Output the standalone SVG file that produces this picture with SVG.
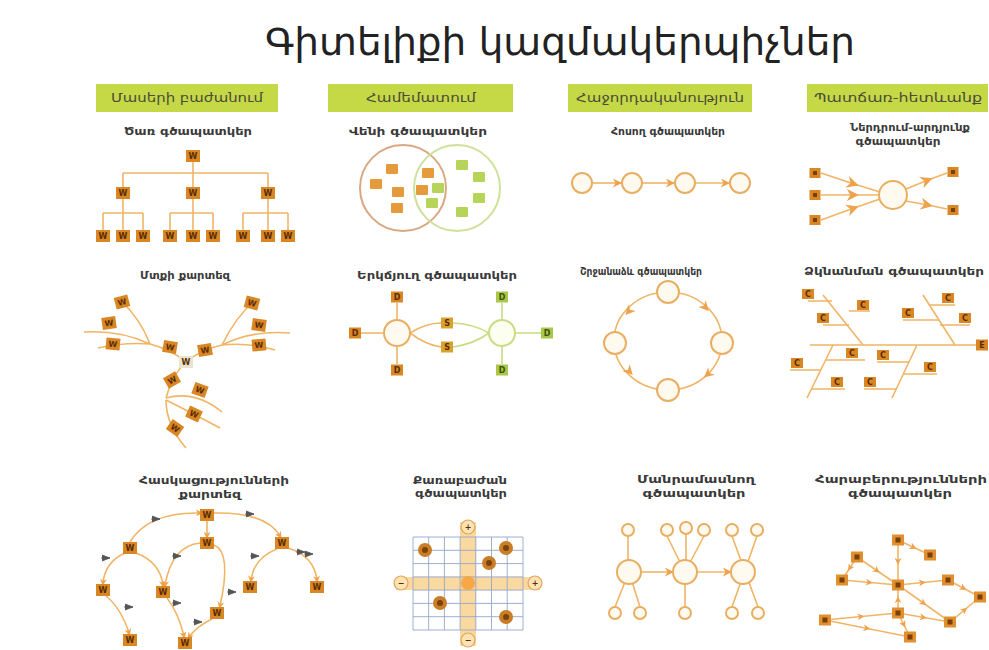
<svg xmlns="http://www.w3.org/2000/svg" width="989" height="650" viewBox="0 0 989 650">
<defs>
<style>
.ln{fill:none;stroke:#f0b566;stroke-width:1.6}
.lg{fill:none;stroke:#c9dc82;stroke-width:1.6}
.wn{fill:#d98624}
.gn{fill:#a9c84a}
.wt{font-family:"DejaVu Sans",sans-serif;font-size:8px;font-weight:bold;fill:#5a2c04;text-anchor:middle}
.gt{font-family:"DejaVu Sans",sans-serif;font-size:8px;font-weight:bold;fill:#3d5208;text-anchor:middle}
.hd{fill:#c5d846}
.ht{font-family:"DejaVu Sans",sans-serif;font-size:12px;fill:#4b4b3a;text-anchor:middle}
.st{font-family:"DejaVu Sans",sans-serif;font-size:11px;font-weight:bold;fill:#3a3a3a;text-anchor:middle}
.oc{fill:#fffaf0;stroke:#e9ae62;stroke-width:2}
.gc{fill:#fcfff0;stroke:#c9dc82;stroke-width:2}
.grid{fill:none;stroke:#93a6cc;stroke-width:0.9}
.lab{fill:#555;stroke:#555;stroke-width:0.8}
</style>
<marker id="arr" viewBox="0 0 10 10" refX="9" refY="5" markerWidth="9" markerHeight="9" orient="auto" markerUnits="userSpaceOnUse"><path d="M0,0 L10,5 L0,10 L3,5 z" fill="#eea24c"/></marker>
<marker id="arrm" viewBox="0 0 10 10" refX="6" refY="5" markerWidth="12" markerHeight="12" orient="auto" markerUnits="userSpaceOnUse"><path d="M0,0 L10,5 L0,10 L3,5 z" fill="#eea24c"/></marker>
<marker id="arrs" viewBox="0 0 10 10" refX="6" refY="5" markerWidth="7" markerHeight="7" orient="auto" markerUnits="userSpaceOnUse"><path d="M0,0 L10,5 L0,10 L3,5 z" fill="#eea24c"/></marker>
<path id="ah" d="M-6,-5 L4,0 L-6,5 L-3,0 z" fill="#eea24c"/>
<path id="lb" d="M-5,-3 L3,0 L-5,3 M-6,0 L3,0" class="lab"/>
<g id="wbox"><rect x="-7" y="-6" width="14" height="12" class="wn"/><text y="3" class="wt">W</text></g>
<g id="wlight"><rect x="-7" y="-6" width="14" height="12" fill="#e9e3cf"/><text y="3" class="wt" fill="#777">W</text></g>
<g id="dbox"><rect x="-6" y="-5.5" width="12" height="11" class="wn"/><text y="3" class="wt">D</text></g>
<g id="dgbox"><rect x="-6" y="-5.5" width="12" height="11" class="gn"/><text y="3" class="gt">D</text></g>
<g id="sbox"><rect x="-6" y="-5.5" width="12" height="11" fill="#d9a22c"/><text y="3" class="wt">S</text></g>
<g id="cbox"><rect x="-6" y="-5" width="12" height="10" class="wn"/><text y="3" class="wt">C</text></g>
<g id="ebox"><rect x="-6" y="-5.5" width="12" height="11" class="wn"/><text y="3" class="wt">E</text></g>
<g id="fbox"><rect x="-6" y="-5.5" width="12" height="11" fill="#e0902e"/><rect x="-2.5" y="-2.5" width="5" height="5" fill="#7a3e0a"/></g>
<g id="sq"><rect x="-5.5" y="-5" width="11" height="10" class="wn"/><rect x="-2" y="-2" width="4" height="4" fill="#7a3e0a"/></g>
<rect id="osq" x="-6" y="-5" width="12" height="10" rx="1" fill="#e59a3c"/>
<rect id="gsq" x="-6" y="-5" width="12" height="10" rx="1" fill="#b6d45a"/>
</defs>
<rect width="989" height="650" fill="#ffffff"/>

<g id="title"><text x="560" y="55" font-family="DejaVu Sans, sans-serif" font-size="37" fill="#222" text-anchor="middle" textLength="590" lengthAdjust="spacingAndGlyphs">Գիտելիքի կազմակերպիչներ</text></g>

<g id="headers">
<rect x="96" y="84" width="182" height="28" class="hd"/>
<text x="187" y="102" class="ht" textLength="152" lengthAdjust="spacingAndGlyphs">Մասերի բաժանում</text>
<rect x="328" y="84" width="185" height="28" class="hd"/>
<text x="421" y="102" class="ht" textLength="110" lengthAdjust="spacingAndGlyphs">Համեմատում</text>
<rect x="568" y="84" width="184" height="28" class="hd"/>
<text x="660" y="102" class="ht" textLength="168" lengthAdjust="spacingAndGlyphs">Հաջորդականություն</text>
<rect x="807" y="84" width="181" height="28" class="hd"/>
<text x="898" y="102" class="ht" textLength="168" lengthAdjust="spacingAndGlyphs">Պատճառ-հետևանք</text>
</g>

<g id="subtitles">
<text x="188" y="135" class="st" textLength="128" lengthAdjust="spacingAndGlyphs">Ծառ գծապատկեր</text>
<text x="418" y="135" class="st" textLength="138" lengthAdjust="spacingAndGlyphs">Վենի գծապատկեր</text>
<text x="668" y="135" class="st" textLength="114" lengthAdjust="spacingAndGlyphs">Հոսող գծապատկեր</text>
<text x="910" y="131" class="st" font-size="10.5" textLength="120" lengthAdjust="spacingAndGlyphs">Ներդրում-արդյունք</text>
<text x="898" y="145" class="st" font-size="10.5" textLength="85" lengthAdjust="spacingAndGlyphs">գծապատկեր</text>
<text x="185" y="279" class="st" textLength="90" lengthAdjust="spacingAndGlyphs">Մտքի քարտեզ</text>
<text x="437" y="279" class="st" textLength="160" lengthAdjust="spacingAndGlyphs">Երկճյուղ գծապատկեր</text>
<text x="641" y="275" class="st" textLength="122" lengthAdjust="spacingAndGlyphs">Շրջանաձև գծապատկեր</text>
<text x="894" y="275" class="st" textLength="180" lengthAdjust="spacingAndGlyphs">Ձկնանման գծապատկեր</text>
<text x="214" y="484" class="st" textLength="150" lengthAdjust="spacingAndGlyphs">Հասկացությունների</text>
<text x="210" y="498" class="st" textLength="62" lengthAdjust="spacingAndGlyphs">քարտեզ</text>
<text x="460" y="484" class="st" textLength="94" lengthAdjust="spacingAndGlyphs">Քառաբաժան</text>
<text x="461" y="497" class="st" textLength="92" lengthAdjust="spacingAndGlyphs">գծապատկեր</text>
<text x="696" y="483" class="st" textLength="118" lengthAdjust="spacingAndGlyphs">Մանրամասնող</text>
<text x="694" y="497" class="st" textLength="103" lengthAdjust="spacingAndGlyphs">գծապատկեր</text>
<text x="901" y="483" class="st" textLength="172" lengthAdjust="spacingAndGlyphs">Հարաբերությունների</text>
<text x="900" y="497" class="st" textLength="104" lengthAdjust="spacingAndGlyphs">գծապատկեր</text>
</g>

<g id="connectors">
<path class="ln" d="M193,162 V173 M123,173 H268 M123,173 V187 M193,173 V187 M268,173 V187 M123,199 V213 M103,213 H143 M103,213 V230 M123,213 V230 M143,213 V230 M193,199 V213 M170,213 H213 M170,213 V230 M193,213 V230 M213,213 V230 M268,199 V213 M243,213 H288 M243,213 V230 M268,213 V230 M288,213 V230"/>
<path class="ln" d="M592,183 H621" marker-end="url(#arr)"/>
<path class="ln" d="M642,183 H674" marker-end="url(#arr)"/>
<path class="ln" d="M695,183 H729" marker-end="url(#arr)"/>
<path class="ln" d="M821,173 L854,184 L880,192" marker-mid="url(#arrm)"/>
<path class="ln" d="M821,195 L854,195 L879,195" marker-mid="url(#arrm)"/>
<path class="ln" d="M821,220 L854,208 L880,199" marker-mid="url(#arrm)"/>
<path class="ln" d="M906,189 L928,180 L947,173" marker-mid="url(#arrm)"/>
<path class="ln" d="M906,201 L928,205 L947,209" marker-mid="url(#arrm)"/>
<path class="ln" d="M186,362 Q172,350 150,344 Q125,342 98,348 M150,344 Q120,330 84,332 M150,344 Q140,318 120,300"/>
<path class="ln" d="M186,362 Q200,350 222,345 Q248,342 275,350 M222,345 Q252,330 290,333 M222,345 Q235,318 255,300"/>
<path class="ln" d="M186,362 Q172,375 166,398 M166,398 Q195,390 222,412 M166,400 Q190,412 220,428 M166,400 Q166,425 186,448"/>
<path class="ln" d="M397,303 V320 M397,346 V364 M361,333 H384 M410,333 Q426,323 441,323 M410,333 Q426,345 441,347"/>
<path class="lg" d="M453,323 Q474,324 489,333 M453,347 Q474,344 489,333 M502,303 V320 M502,346 V364 M515,333 H541"/>
<ellipse cx="668" cy="341" rx="54" ry="49" class="ln"/>
<use href="#ah" transform="translate(628,312) rotate(132)"/>
<use href="#ah" transform="translate(706,308) rotate(48)"/>
<use href="#ah" transform="translate(630,372) rotate(48)"/>
<use href="#ah" transform="translate(707,375) rotate(139)"/>
<path class="ln" d="M810,345 H976 M823,295 L863,345 M923,295 L955,345 M833,345 L807,398 M917,345 L892,398"/>
<path class="ln" d="M808,301 H832 M849,311 H870 M823,325 H849 M903,320 H939 M929,305 H955 M940,325 H970 M790,370 H821 M826,360 H865 M811,389 H845 M877,362 H909 M903,374 H937 M864,389 H896"/>
<path class="ln" d="M130,542 Q148,512 200,513" marker-end="url(#arrs)"/>
<path class="ln" d="M214,513 Q266,512 280,536" marker-end="url(#arrs)"/>
<path class="ln" d="M207,521 V536" marker-end="url(#arrs)"/>
<path class="ln" d="M288,548 Q314,556 317,580" marker-end="url(#arrs)"/>
<path class="ln" d="M277,549 Q254,558 251,580" marker-end="url(#arrs)"/>
<path class="ln" d="M125,553 Q105,562 103,583" marker-end="url(#arrs)"/>
<path class="ln" d="M136,553 Q160,562 163,585" marker-end="url(#arrs)"/>
<path class="ln" d="M200,543 Q172,546 165,585" marker-end="url(#arrs)"/>
<path class="ln" d="M214,545 Q232,552 220,606" marker-end="url(#arrs)"/>
<path class="ln" d="M167,598 Q178,612 184,636" marker-end="url(#arrs)"/>
<path class="ln" d="M106,596 Q121,608 129,633" marker-end="url(#arrs)"/>
<path class="ln" d="M212,619 Q197,626 189,637" marker-end="url(#arrs)"/>
<use href="#lb" transform="translate(157,519)"/>
<use href="#lb" transform="translate(251,514)"/>
<use href="#lb" transform="translate(310,554)"/>
<use href="#lb" transform="translate(256,556)"/>
<use href="#lb" transform="translate(107,558)"/>
<use href="#lb" transform="translate(178,556)"/>
<use href="#lb" transform="translate(233,592)"/>
<use href="#lb" transform="translate(178,603)"/>
<use href="#lb" transform="translate(130,607)"/>
<use href="#lb" transform="translate(199,622)"/>
<use href="#lb" transform="translate(302,552)"/>
<rect x="460" y="522" width="16" height="124" fill="#f9cf8a" opacity="0.8"/>
<rect x="396" y="577" width="144" height="13" fill="#f9cf8a" opacity="0.8"/>
<path class="grid" d="M413,537 H523 M413,550.3 H523 M413,563.6 H523 M413,576.9 H523 M413,590.1 H523 M413,603.4 H523 M413,616.7 H523 M413,630 H523 M413,537 V630 M428.7,537 V630 M444.4,537 V630 M460.1,537 V630 M475.8,537 V630 M491.5,537 V630 M507.2,537 V630 M523,537 V630"/>
<path class="ln" d="M628,536 V560 M629,572 L615,607 M629,572 L640,607 M667,536 L685,572 M686,534 V560 M704,536 L685,572 M685,584 V607 M732,536 L758,607 M757,536 L732,607"/>
<path class="ln" d="M641,572 H673" marker-end="url(#arr)"/>
<path class="ln" d="M697,572 H731" marker-end="url(#arr)"/>
<path class="ln" d="M898,540 L914,547.5 L930,555" marker-mid="url(#arrs)"/>
<path class="ln" d="M898,540 L898,562 L898,585" marker-mid="url(#arrs)"/>
<path class="ln" d="M857,557 L877.5,571 L898,585" marker-mid="url(#arrs)"/>
<path class="ln" d="M857,557 L849.5,568.5 L842,580" marker-mid="url(#arrs)"/>
<path class="ln" d="M842,580 L870,582.5 L898,585" marker-mid="url(#arrs)"/>
<path class="ln" d="M898,585 L923,582.5 L948,580" marker-mid="url(#arrs)"/>
<path class="ln" d="M948,580 L964,588.5 L980,597" marker-mid="url(#arrs)"/>
<path class="ln" d="M898,585 L924,603.5 L950,622" marker-mid="url(#arrs)"/>
<path class="ln" d="M950,622 L965,609.5 L980,597" marker-mid="url(#arrs)"/>
<path class="ln" d="M898,613 L898,599 L898,585" marker-mid="url(#arrs)"/>
<path class="ln" d="M825,620 L861.5,616.5 L898,613" marker-mid="url(#arrs)"/>
<path class="ln" d="M825,620 L867.5,628.5 L910,637" marker-mid="url(#arrs)"/>
<path class="ln" d="M898,613 L924,617.5 L950,622" marker-mid="url(#arrs)"/>
<path class="ln" d="M898,613 L904,625 L910,637" marker-mid="url(#arrs)"/>
</g>

<g id="tree-root"><use href="#wbox" x="193" y="156"/></g>
<g id="tree-a"><use href="#wbox" x="123" y="193"/></g>
<g id="tree-b"><use href="#wbox" x="193" y="193"/></g>
<g id="tree-c"><use href="#wbox" x="268" y="193"/></g>
<g id="tree-a1"><use href="#wbox" x="103" y="236"/></g>
<g id="tree-a2"><use href="#wbox" x="123" y="236"/></g>
<g id="tree-a3"><use href="#wbox" x="143" y="236"/></g>
<g id="tree-b1"><use href="#wbox" x="170" y="236"/></g>
<g id="tree-b2"><use href="#wbox" x="193" y="236"/></g>
<g id="tree-b3"><use href="#wbox" x="213" y="236"/></g>
<g id="tree-c1"><use href="#wbox" x="243" y="236"/></g>
<g id="tree-c2"><use href="#wbox" x="268" y="236"/></g>
<g id="tree-c3"><use href="#wbox" x="288" y="236"/></g>

<g id="venn-left"><circle cx="403" cy="188" r="43" fill="none" stroke="#d9a882" stroke-width="2"/></g>
<g id="venn-right"><circle cx="457" cy="188" r="43" fill="none" stroke="#cfe09a" stroke-width="2"/></g>
<g id="venn-items">
<use href="#osq" x="392" y="169"/><use href="#osq" x="376" y="184"/><use href="#osq" x="398" y="192"/><use href="#osq" x="397" y="208"/><use href="#osq" x="428" y="173"/><use href="#osq" x="422" y="190"/>
<use href="#gsq" x="438" y="188"/><use href="#gsq" x="432" y="203"/><use href="#gsq" x="462" y="165"/><use href="#gsq" x="479" y="177"/><use href="#gsq" x="479" y="198"/><use href="#gsq" x="462" y="212"/>
</g>

<g id="flow-1"><circle cx="582" cy="183" r="10" class="oc"/></g>
<g id="flow-2"><circle cx="632" cy="183" r="10" class="oc"/></g>
<g id="flow-3"><circle cx="685" cy="183" r="10" class="oc"/></g>
<g id="flow-4"><circle cx="740" cy="183" r="10" class="oc"/></g>

<g id="io-in1"><use href="#sq" x="815" y="173"/></g>
<g id="io-in2"><use href="#sq" x="815" y="195"/></g>
<g id="io-in3"><use href="#sq" x="815" y="220"/></g>
<g id="io-center"><circle cx="893" cy="195" r="14" class="oc"/></g>
<g id="io-out1"><use href="#sq" x="953" y="172"/></g>
<g id="io-out2"><use href="#sq" x="953" y="210"/></g>

<g id="mm-center"><use href="#wlight" x="186" y="362"/></g>
<g id="mm-l1"><use href="#wbox" transform="translate(122,302) rotate(-15)"/></g>
<g id="mm-l2"><use href="#wbox" transform="translate(109,323) rotate(-8)"/></g>
<g id="mm-l3"><use href="#wbox" transform="translate(113,344) rotate(5)"/></g>
<g id="mm-l4"><use href="#wbox" transform="translate(170,347) rotate(10)"/></g>
<g id="mm-r4"><use href="#wbox" transform="translate(205,350) rotate(-10)"/></g>
<g id="mm-r1"><use href="#wbox" transform="translate(252,303) rotate(15)"/></g>
<g id="mm-r2"><use href="#wbox" transform="translate(259,325) rotate(8)"/></g>
<g id="mm-r3"><use href="#wbox" transform="translate(259,345) rotate(-5)"/></g>
<g id="mm-b1"><use href="#wbox" transform="translate(172,380) rotate(-30)"/></g>
<g id="mm-b2"><use href="#wbox" transform="translate(200,390) rotate(20)"/></g>
<g id="mm-b3"><use href="#wbox" transform="translate(194,414) rotate(25)"/></g>
<g id="mm-b4"><use href="#wbox" transform="translate(175,428) rotate(35)"/></g>

<g id="db-left"><circle cx="397" cy="333" r="13" class="oc"/></g>
<g id="db-right"><circle cx="502" cy="333" r="13" class="gc"/></g>
<g id="db-d1"><use href="#dbox" x="397" y="297"/></g>
<g id="db-d2"><use href="#dbox" x="355" y="333"/></g>
<g id="db-d3"><use href="#dbox" x="397" y="370"/></g>
<g id="db-s1"><use href="#sbox" x="447" y="323"/></g>
<g id="db-s2"><use href="#sbox" x="447" y="347"/></g>
<g id="db-d4"><use href="#dgbox" x="502" y="297"/></g>
<g id="db-d5"><use href="#dgbox" x="547" y="333"/></g>
<g id="db-d6"><use href="#dgbox" x="502" y="370"/></g>

<g id="cy-top"><circle cx="668" cy="292" r="11" class="oc"/></g>
<g id="cy-left"><circle cx="615" cy="343" r="11" class="oc"/></g>
<g id="cy-right"><circle cx="722" cy="343" r="11" class="oc"/></g>
<g id="cy-bottom"><circle cx="668" cy="390" r="11" class="oc"/></g>

<g id="fb-c1"><use href="#cbox" x="808" y="294"/></g>
<g id="fb-c2"><use href="#cbox" x="863" y="305"/></g>
<g id="fb-c3"><use href="#cbox" x="823" y="318"/></g>
<g id="fb-c4"><use href="#cbox" x="908" y="313"/></g>
<g id="fb-c5"><use href="#cbox" x="948" y="298"/></g>
<g id="fb-c6"><use href="#cbox" x="965" y="318"/></g>
<g id="fb-c7"><use href="#cbox" x="797" y="363"/></g>
<g id="fb-c8"><use href="#cbox" x="852" y="353"/></g>
<g id="fb-c9"><use href="#cbox" x="837" y="382"/></g>
<g id="fb-c10"><use href="#cbox" x="883" y="355"/></g>
<g id="fb-c11"><use href="#cbox" x="930" y="367"/></g>
<g id="fb-c12"><use href="#cbox" x="870" y="382"/></g>
<g id="fb-e"><use href="#ebox" x="982" y="345"/></g>

<g id="cm-top"><use href="#wbox" x="207" y="515"/></g>
<g id="cm-a"><use href="#wbox" x="207" y="543"/></g>
<g id="cm-l"><use href="#wbox" x="130" y="548"/></g>
<g id="cm-r"><use href="#wbox" x="282" y="543"/></g>
<g id="cm-ll"><use href="#wbox" x="103" y="590"/></g>
<g id="cm-lm"><use href="#wbox" x="163" y="592"/></g>
<g id="cm-rm"><use href="#wbox" x="250" y="587"/></g>
<g id="cm-rr"><use href="#wbox" x="317" y="587"/></g>
<g id="cm-m"><use href="#wbox" x="217" y="613"/></g>
<g id="cm-b1"><use href="#wbox" x="130" y="640"/></g>
<g id="cm-b2"><use href="#wbox" x="185" y="643"/></g>

<g id="mx-top"><circle cx="468" cy="527" r="7" fill="#fde2b4" stroke="#e2a458" stroke-width="1.2"/><text x="468" y="530" class="wt" font-size="9">+</text></g>
<g id="mx-bottom"><circle cx="468" cy="640" r="7" fill="#fde2b4" stroke="#e2a458" stroke-width="1.2"/><text x="468" y="643" class="wt" font-size="9">−</text></g>
<g id="mx-left"><circle cx="401" cy="583" r="7" fill="#fde2b4" stroke="#e2a458" stroke-width="1.2"/><text x="401" y="586" class="wt" font-size="9">−</text></g>
<g id="mx-right"><circle cx="535" cy="583" r="7" fill="#fde2b4" stroke="#e2a458" stroke-width="1.2"/><text x="535" y="586" class="wt" font-size="9">+</text></g>
<g id="mx-center"><circle cx="468" cy="583" r="7" fill="#f7a844"/></g>
<g id="mx-dots">
<circle cx="425" cy="550" r="7" fill="#c97d26"/><circle cx="425" cy="550" r="3" fill="#7a430e"/>
<circle cx="506" cy="548" r="7" fill="#c97d26"/><circle cx="506" cy="548" r="3" fill="#7a430e"/>
<circle cx="489" cy="563" r="7" fill="#c97d26"/><circle cx="489" cy="563" r="3" fill="#7a430e"/>
<circle cx="440" cy="603" r="7" fill="#c97d26"/><circle cx="440" cy="603" r="3" fill="#7a430e"/>
<circle cx="506" cy="617" r="7" fill="#c97d26"/><circle cx="506" cy="617" r="3" fill="#7a430e"/>
</g>

<g id="dt-1"><circle cx="629" cy="572" r="12" class="oc"/></g>
<g id="dt-2"><circle cx="685" cy="572" r="12" class="oc"/></g>
<g id="dt-3"><circle cx="743" cy="572" r="12" class="oc"/></g>
<g id="dt-small">
<circle cx="628" cy="530" r="6" class="oc" stroke-width="1.5"/>
<circle cx="667" cy="530" r="6" class="oc" stroke-width="1.5"/>
<circle cx="686" cy="528" r="6" class="oc" stroke-width="1.5"/>
<circle cx="704" cy="530" r="6" class="oc" stroke-width="1.5"/>
<circle cx="732" cy="530" r="6" class="oc" stroke-width="1.5"/>
<circle cx="757" cy="530" r="6" class="oc" stroke-width="1.5"/>
<circle cx="615" cy="613" r="6" class="oc" stroke-width="1.5"/>
<circle cx="640" cy="613" r="6" class="oc" stroke-width="1.5"/>
<circle cx="685" cy="613" r="6" class="oc" stroke-width="1.5"/>
<circle cx="732" cy="613" r="6" class="oc" stroke-width="1.5"/>
<circle cx="758" cy="613" r="6" class="oc" stroke-width="1.5"/>
</g>

<g id="rl-1"><use href="#fbox" x="898" y="540"/></g>
<g id="rl-2"><use href="#fbox" x="930" y="555"/></g>
<g id="rl-3"><use href="#fbox" x="857" y="557"/></g>
<g id="rl-4"><use href="#fbox" x="842" y="580"/></g>
<g id="rl-5"><use href="#fbox" x="898" y="585"/></g>
<g id="rl-6"><use href="#fbox" x="948" y="580"/></g>
<g id="rl-7"><use href="#fbox" x="980" y="597"/></g>
<g id="rl-8"><use href="#fbox" x="825" y="620"/></g>
<g id="rl-9"><use href="#fbox" x="898" y="613"/></g>
<g id="rl-10"><use href="#fbox" x="950" y="622"/></g>
<g id="rl-11"><use href="#fbox" x="910" y="637"/></g>
</svg>
